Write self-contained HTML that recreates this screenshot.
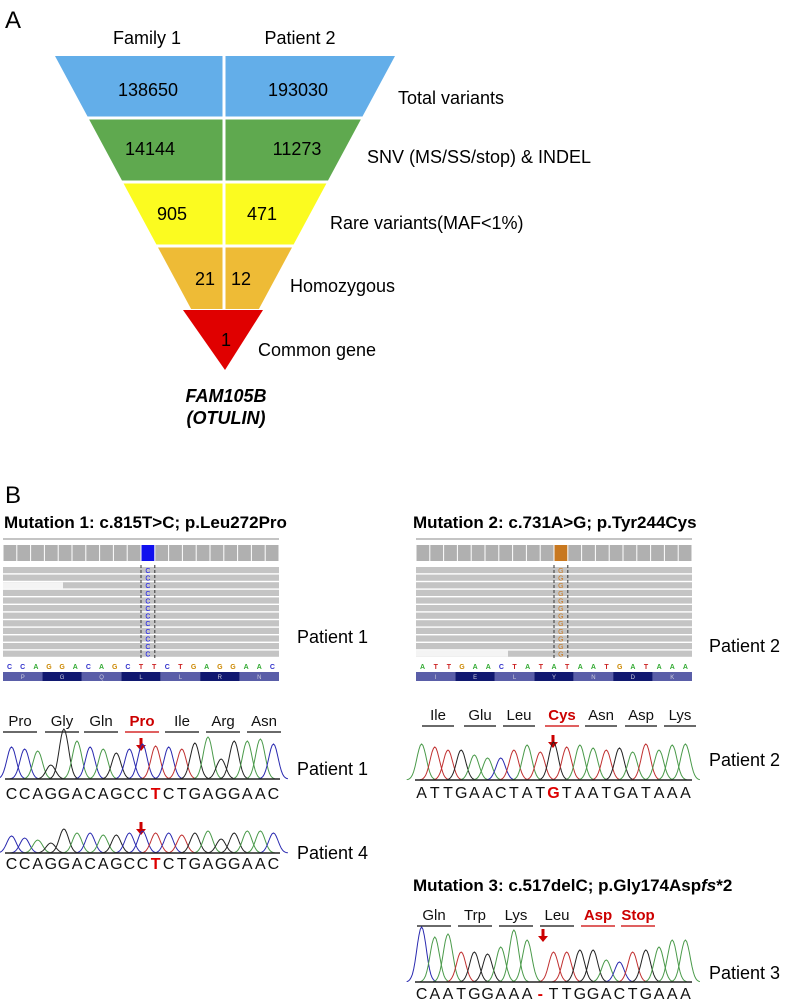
<!DOCTYPE html>
<html><head><meta charset="utf-8"><style>
html,body{margin:0;padding:0;background:#fff;}
svg{display:block;font-family:"Liberation Sans",Arial,sans-serif;}
</style></head><body>
<svg id="s" width="793" height="1004" viewBox="0 0 793 1004" xmlns="http://www.w3.org/2000/svg">
<text x="5" y="28" font-size="24">A</text>
<text x="147" y="44" font-size="18" text-anchor="middle">Family 1</text>
<text x="300" y="44" font-size="18" text-anchor="middle">Patient 2</text>
<g id="tri"></g>
<g font-size="18" text-anchor="middle">
<text x="148" y="96">138650</text><text x="298" y="96">193030</text>
<text x="150" y="155">14144</text><text x="297" y="155">11273</text>
<text x="172" y="220">905</text><text x="262" y="220">471</text>
<text x="205" y="285">21</text><text x="241" y="285">12</text>
<text x="226" y="346">1</text>
</g>
<g font-size="18">
<text x="398" y="104">Total variants</text>
<text x="367" y="163">SNV (MS/SS/stop) &amp; INDEL</text>
<text x="330" y="229">Rare variants(MAF&lt;1%)</text>
<text x="290" y="292">Homozygous</text>
<text x="258" y="356">Common gene</text>
</g>
<g font-size="18" font-weight="bold" font-style="italic" text-anchor="middle">
<text x="226" y="402">FAM105B</text><text x="226" y="424">(OTULIN)</text>
</g>
<text x="5" y="503" font-size="24">B</text>
<g font-size="17" font-weight="bold">
<text x="4" y="528">Mutation 1: c.815T&gt;C; p.Leu272Pro</text>
<text x="413" y="528">Mutation 2: c.731A&gt;G; p.Tyr244Cys</text>
<text x="413" y="891">Mutation 3: c.517delC; p.Gly174Asp<tspan font-style="italic">fs</tspan>*2</text>
</g>
<g font-size="18">
<text x="297" y="643">Patient 1</text>
<text x="709" y="652">Patient 2</text>
<text x="297" y="775">Patient 1</text>
<text x="709" y="766">Patient 2</text>
<text x="297" y="859">Patient 4</text>
<text x="709" y="979">Patient 3</text>
</g>
<g id="dyn"></g>
</svg>
<script>
var NS="http://www.w3.org/2000/svg";
var dyn=document.getElementById('dyn'), tri=document.getElementById('tri');
function el(p,t,a,txt){var e=document.createElementNS(NS,t);for(var k in a)e.setAttribute(k,a[k]);if(txt!==undefined)e.textContent=txt;p.appendChild(e);return e;}
var T=56,B=372,L=55,R=395,C=225;
function xl(y){return L+(y-T)*(C-L)/(B-T);} function xr(y){return R-(y-T)*(R-C)/(B-T);}
var bands=[[T,118,'#63aee9'],[118,182,'#5fa94f'],[182,246,'#fbfb20'],[246,309,'#eebb36']];
bands.forEach(function(b){var y0=b[0],y1=b[1];
 el(tri,'polygon',{points:xl(y0)+','+y0+' '+xr(y0)+','+y0+' '+xr(y1)+','+y1+' '+xl(y1)+','+y1,fill:b[2]});});
el(tri,'polygon',{points:'183,310 263,310 225,370',fill:'#e00000'});
[118,182,246].forEach(function(y){el(tri,'line',{x1:0,x2:793,y1:y,y2:y,stroke:'#fff','stroke-width':3});});
el(tri,'line',{x1:224,x2:224,y1:T,y2:309,stroke:'#fff','stroke-width':3});
function igv(x0,x1,mi,mcol,mlet,seq,seqcol,aas,white){
 var n=20,w=(x1-x0)/n;
 el(dyn,'line',{x1:x0,x2:x1,y1:539,y2:539,stroke:'#888','stroke-width':1});
 for(var i=0;i<n;i++){el(dyn,'rect',{x:x0+i*w+0.5,y:545,width:w-1,height:16,fill:i==mi?mcol:'#b0b0b0'});}
 for(var r=0;r<12;r++){var y=567+r*7.6;el(dyn,'rect',{x:x0,y:y,width:x1-x0,height:6.2,fill:'#c4c4c4'});
  el(dyn,'text',{x:x0+(mi+0.5)*w,y:y+6,'font-size':7,fill:mcol,'text-anchor':'middle'},mlet);}
 if(white)el(dyn,'rect',{x:white[0],y:567+white[1]*7.6,width:white[2],height:6.2,fill:'#f4f4f4'});
 el(dyn,'line',{x1:x0+mi*w,x2:x0+mi*w,y1:565,y2:660,stroke:'#333','stroke-dasharray':'3,2'});
 el(dyn,'line',{x1:x0+(mi+1)*w,x2:x0+(mi+1)*w,y1:565,y2:660,stroke:'#333','stroke-dasharray':'3,2'});
 var cm={A:'#3a3',C:'#33c',G:'#c80',T:'#c22'};
 for(var i=0;i<seq.length;i++)el(dyn,'text',{x:x0+(i+0.5)*(x1-x0)/seq.length,y:669,'font-size':7,'font-weight':'bold',fill:cm[seq[i]],'text-anchor':'middle'},seq[i]);
 var aw=(x1-x0)/7;
 for(var i=0;i<7;i++){el(dyn,'rect',{x:x0+i*aw,y:672,width:aw,height:9,fill:i%2?'#101870':'#5a5ea8'});
  el(dyn,'text',{x:x0+(i+0.5)*aw,y:679,'font-size':6,fill:'#ccd','text-anchor':'middle'},aas[i]);}
}
igv(3,279,10,'#1010ee','C','CCAGGACAGCTTCTGAGGAAC',0,'PGQLLRN',[3,2,60]);
igv(416,692,10,'#c87820','G','ATTGAACTATATAATGATAAA',0,'IELYNDK',[416,11,92]);
var col={A:'#4a9a4a',C:'#2a2ab0',G:'#222',T:'#c03030'};
function chrom(x0,x1,base,seq,hs,lettersY,redIdx,fs){
 var n=seq.length,w=(x1-x0)/n;
 for(var i=0;i<n;i++){var cx=x0+(i+0.5)*w,h=hs[i],d='M'+(cx-w*1.1)+','+base;
  for(var t=-1.1;t<=1.1;t+=0.1){d+=' L'+(cx+t*w).toFixed(1)+','+(base-h*Math.exp(-t*t*4)).toFixed(1);}
  el(dyn,'path',{d:d,fill:'none',stroke:col[seq[i]],'stroke-width':1});}
 el(dyn,'line',{x1:x0,x2:x1,y1:base,y2:base,stroke:'#222','stroke-width':1.5});
 for(var i=0;i<n;i++){var r=i==redIdx;el(dyn,'text',{x:x0+(i+0.5)*w,y:lettersY,'font-size':fs,'text-anchor':'middle',fill:r?'#d00':'#111','font-weight':r?'bold':'normal'},seq[i]);}
}
function arrow(x,y){el(dyn,'rect',{x:x-1.5,y:y,width:3,height:8,fill:'#c00'});el(dyn,'polygon',{points:(x-5)+','+(y+7)+' '+(x+5)+','+(y+7)+' '+x+','+(y+13),fill:'#c00'});}
function aalabels(list,y,ly){list.forEach(function(a){el(dyn,'text',{x:a[1],y:y,'font-size':15,'text-anchor':'middle',fill:a[2]?'#c00':'#111','font-weight':a[2]?'bold':'normal'},a[0]);
 el(dyn,'line',{x1:a[1]-a[3]/2,x2:a[1]+a[3]/2,y1:ly,y2:ly,stroke:a[2]?'#c00':'#111','stroke-width':1.2});});}
aalabels([['Pro',20,0,34],['Gly',62,0,34],['Gln',101,0,34],['Pro',142,1,34],['Ile',182,0,34],['Arg',223,0,34],['Asn',264,0,34]],726,732);
arrow(141,738);
chrom(5,280,779,'CCAGGACAGCCTCTGAGGAAC',[32,30,28,14,50,38,32,30,26,30,35,33,32,30,36,42,20,38,38,40,35],799,11,16);
arrow(141,822);
chrom(5,280,853,'CCAGGACAGCCTCTGAGGAAC',[17,15,13,10,24,20,20,18,18,20,22,20,20,18,20,22,14,20,22,22,20],869,11,16);
aalabels([['Ile',438,0,32],['Glu',480,0,32],['Leu',519,0,32],['Cys',562,1,34],['Asn',601,0,32],['Asp',641,0,32],['Lys',680,0,32]],720,726);
arrow(553,735);
chrom(415,692,780,'ATTGAACTATGTAATGATAAA',[36,33,30,30,25,22,22,30,35,28,38,33,35,32,30,32,28,36,30,35,36],798,10,16);
aalabels([['Gln',434,0,34],['Trp',475,0,34],['Lys',516,0,34],['Leu',557,0,34],['Asp',598,1,34],['Stop',638,1,34]],920,926);
arrow(543,929);
chrom(415,692,982,'CAATGGAAA-TTGGACTGAAA',[55,45,48,30,30,28,35,52,42,0,30,30,32,32,22,20,30,32,35,42,42],999,9,16);
</script>
</body></html>
